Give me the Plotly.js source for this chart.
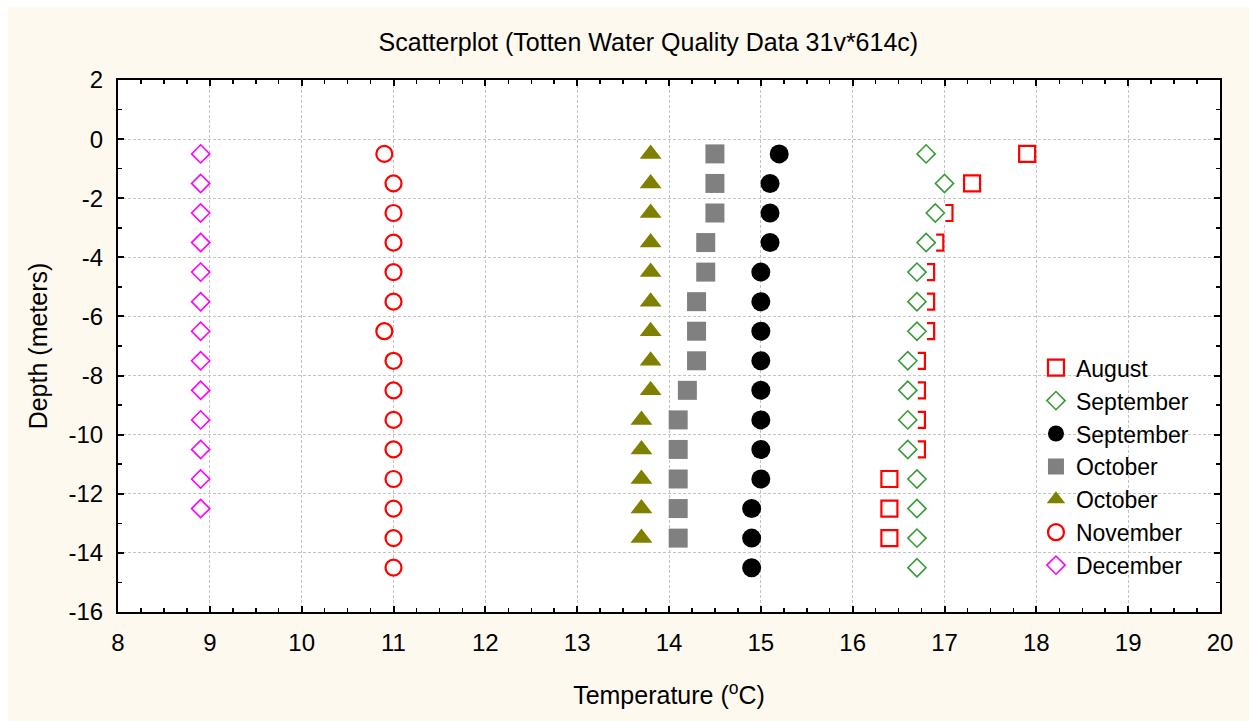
<!DOCTYPE html>
<html>
<head>
<meta charset="utf-8">
<script src="https://cdn.plot.ly/plotly-3.0.1.min.js"></script>
<style>
html,body{margin:0;padding:0;background:#ffffff;}
#chart{position:absolute;left:8px;top:7px;width:1241px;height:714px;}
</style>
</head>
<body>
<div id="chart"></div>
<script>
// ---- Data ----
const depthAugust = [-0.5,-1.5,-2.5,-3.5,-4.5,-5.5,-6.5,-7.5,-8.5,-9.5,-10.5,-11.5,-12.5,-13.5];
const tempAugust  = [17.9,17.3,17.0,16.9,16.8,16.8,16.8,16.7,16.7,16.7,16.7,16.4,16.4,16.4];

const depthSeptA = [-0.5,-1.5,-2.5,-3.5,-4.5,-5.5,-6.5,-7.5,-8.5,-9.5,-10.5,-11.5,-12.5,-13.5,-14.5];
const tempSeptA  = [16.8,17.0,16.9,16.8,16.7,16.7,16.7,16.6,16.6,16.6,16.6,16.7,16.7,16.7,16.7];

const depthSeptB = [-0.5,-1.5,-2.5,-3.5,-4.5,-5.5,-6.5,-7.5,-8.5,-9.5,-10.5,-11.5,-12.5,-13.5,-14.5];
const tempSeptB  = [15.2,15.1,15.1,15.1,15.0,15.0,15.0,15.0,15.0,15.0,15.0,15.0,14.9,14.9,14.9];

const depthOctA = [-0.5,-1.5,-2.5,-3.5,-4.5,-5.5,-6.5,-7.5,-8.5,-9.5,-10.5,-11.5,-12.5,-13.5];
const tempOctA  = [14.5,14.5,14.5,14.4,14.4,14.3,14.3,14.3,14.2,14.1,14.1,14.1,14.1,14.1];

const depthOctB = [-0.5,-1.5,-2.5,-3.5,-4.5,-5.5,-6.5,-7.5,-8.5,-9.5,-10.5,-11.5,-12.5,-13.5];
const tempOctB  = [13.8,13.8,13.8,13.8,13.8,13.8,13.8,13.8,13.8,13.7,13.7,13.7,13.7,13.7];

const depthNov = [-0.5,-1.5,-2.5,-3.5,-4.5,-5.5,-6.5,-7.5,-8.5,-9.5,-10.5,-11.5,-12.5,-13.5,-14.5];
const tempNov  = [10.9,11.0,11.0,11.0,11.0,11.0,10.9,11.0,11.0,11.0,11.0,11.0,11.0,11.0,11.0];

const depthDec = [-0.5,-1.5,-2.5,-3.5,-4.5,-5.5,-6.5,-7.5,-8.5,-9.5,-10.5,-11.5,-12.5];
const tempDec  = [8.9,8.9,8.9,8.9,8.9,8.9,8.9,8.9,8.9,8.9,8.9,8.9,8.9];

const seriesNames = ["August","September","September","October","October","November","December"];
const xTickVals = [8,9,10,11,12,13,14,15,16,17,18,19,20];
const yTickVals = [2,0,-2,-4,-6,-8,-10,-12,-14,-16];

const FONT = "Liberation Sans, Arial, sans-serif";

const traces = [
  {x: tempAugust, y: depthAugust, name: seriesNames[0], type: "scatter", mode: "markers",
   marker: {symbol: "square", size: 16, color: "#ffffff", line: {color: "#ff0000", width: 2.2}}},
  // white backing of the September diamonds (hides the overlapped part of the August squares)
  {x: tempSeptA, y: depthSeptA, type: "scatter", mode: "markers", showlegend: false, hoverinfo: "skip",
   marker: {symbol: "square", size: 20, color: "#ffffff", line: {width: 0}}},
  {x: tempSeptA, y: depthSeptA, name: seriesNames[1], type: "scatter", mode: "markers",
   marker: {symbol: "diamond", size: 14, color: "#ffffff", line: {color: "#3a9a3a", width: 1.6}}},
  {x: tempSeptB, y: depthSeptB, name: seriesNames[2], type: "scatter", mode: "markers",
   marker: {symbol: "circle", size: 19, color: "#000000", line: {width: 0}}},
  {x: tempOctA, y: depthOctA, name: seriesNames[3], type: "scatter", mode: "markers",
   marker: {symbol: "square", size: 19, color: "#808080", line: {width: 0}}},
  {x: tempOctB, y: depthOctB, name: seriesNames[4], type: "scatter", mode: "markers",
   marker: {symbol: "triangle-up", size: 19, color: "#808000", line: {width: 0}}},
  {x: tempNov, y: depthNov, name: seriesNames[5], type: "scatter", mode: "markers",
   marker: {symbol: "circle", size: 16, color: "#ffffff", line: {color: "#ff0000", width: 2.2}}},
  {x: tempDec, y: depthDec, name: seriesNames[6], type: "scatter", mode: "markers",
   marker: {symbol: "diamond", size: 14, color: "#ffffff", line: {color: "#ff00ff", width: 1.6}}}
];

const axisCommon = {
  showline: true, linecolor: "#000000", linewidth: 2, mirror: "allticks",
  ticks: "inside", ticklen: 6, tickwidth: 2, tickcolor: "#000000",
  showgrid: true, gridcolor: "#c4c4c4", gridwidth: 1, griddash: "3px,2px",
  zeroline: false, tickfont: {family: FONT, size: 24, color: "#000000"},
  ticklabelstandoff: 8
};

const layout = {
  width: 1241, height: 714,
  paper_bgcolor: "#fdf9ef", plot_bgcolor: "#ffffff",
  margin: {l: 110, r: 29, t: 73, b: 109},
  font: {family: FONT, color: "#000000"},
  title: {text: "Scatterplot (Totten Water Quality Data 31v*614c)",
          font: {family: FONT, size: 25, color: "#000000"},
          x: 0.516, xanchor: "center", xref: "container", y: 0.951, yanchor: "middle"},
  xaxis: Object.assign({}, axisCommon, {
    range: [8, 20], tickvals: xTickVals, ticktext: xTickVals.map(String),
    minor: {dtick: 0.25, ticks: "inside", ticklen: 4, tickwidth: 1.5, tickcolor: "#000000", showgrid: false},
    title: {text: "Temperature (<sup>o</sup>C)", font: {family: FONT, size: 25, color: "#000000"}, standoff: 32}
  }),
  yaxis: Object.assign({}, axisCommon, {
    range: [-16, 2], tickvals: yTickVals, ticktext: yTickVals.map(String),
    minor: {dtick: 1, ticks: "inside", ticklen: 4, tickwidth: 1.5, tickcolor: "#000000", showgrid: false},
    title: {text: "Depth (meters)", font: {family: FONT, size: 25, color: "#000000"}, standoff: 14}
  }),
  legend: {x: 0.833, y: 0.4995, xanchor: "left", yanchor: "top",
           bgcolor: "rgba(0,0,0,0)", borderwidth: 0,
           font: {family: FONT, size: 23, color: "#000000"}, tracegroupgap: 0},
  showlegend: true
};

Plotly.newPlot("chart", traces, layout, {displayModeBar: false, staticPlot: true});
</script>
</body>
</html>
